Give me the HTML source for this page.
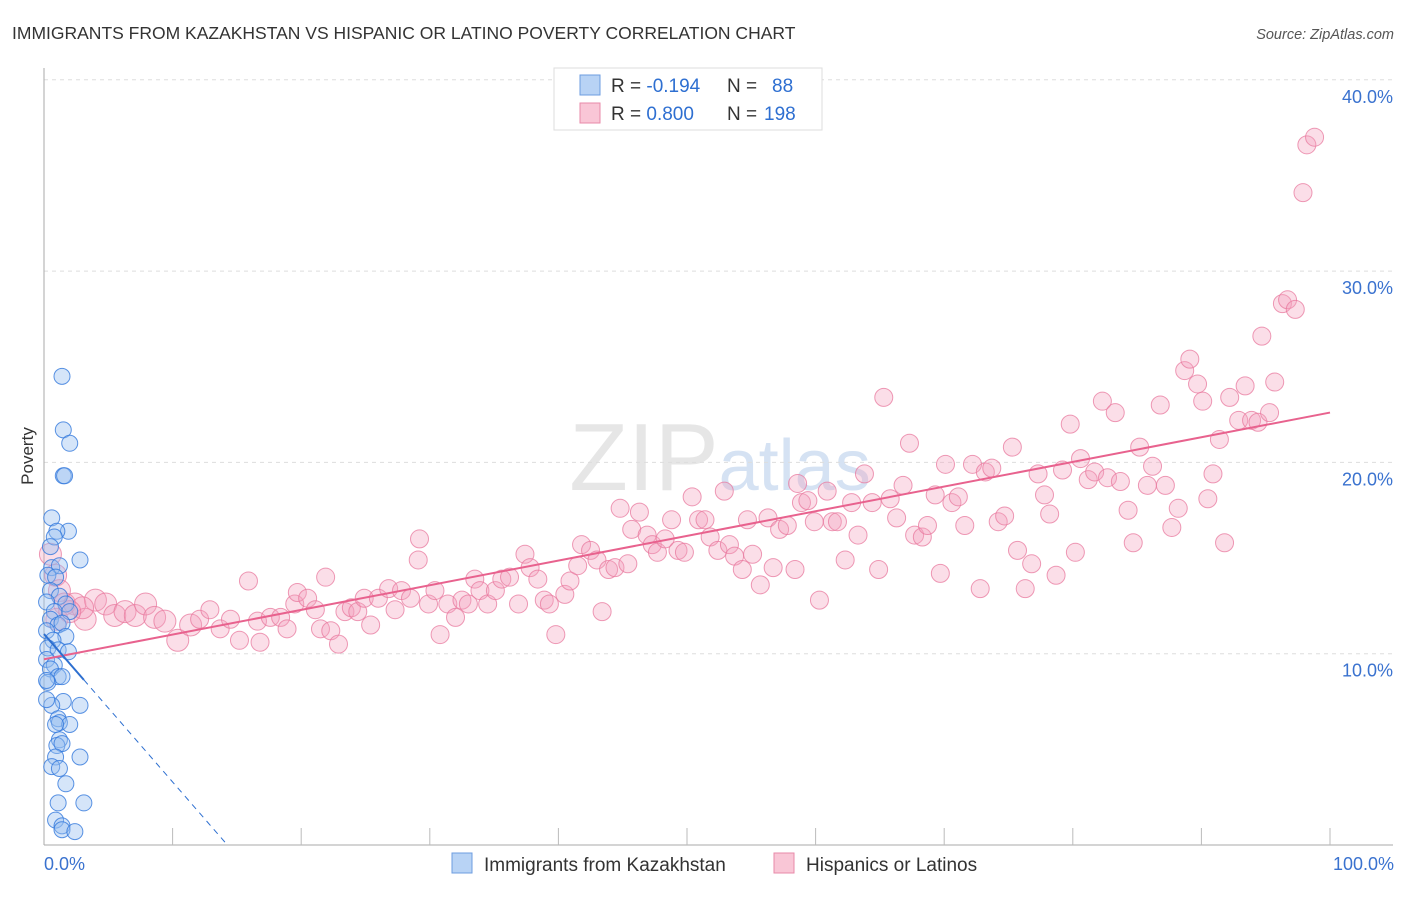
<!DOCTYPE html>
<html><head><meta charset="utf-8"><style>
body{margin:0;background:#fff;font-family:"Liberation Sans",sans-serif}
svg text{font-family:"Liberation Sans",sans-serif}
</style></head><body>
<svg id="chart" width="1406" height="892" viewBox="0 0 1406 892" xmlns="http://www.w3.org/2000/svg">
<text x="12" y="39" font-size="17.5" fill="#333">IMMIGRANTS FROM KAZAKHSTAN VS HISPANIC OR LATINO POVERTY CORRELATION CHART</text>
<text x="1394" y="39" font-size="14.5" fill="#555" text-anchor="end" font-style="italic">Source: ZipAtlas.com</text>
<text x="720" y="490" font-size="96" fill="#e6e6e6" text-anchor="middle" font-family="Liberation Serif">ZIP<tspan fill="#d5e2f3" font-family="Liberation Sans" font-size="72">atlas</tspan></text>
<g id="grid"></g>
<g id="axes"></g>
<g id="pink"></g>
<g id="blue"></g>
<g id="lines"></g>
<text transform="translate(33,456) rotate(-90)" font-size="17" fill="#333" text-anchor="middle">Poverty</text>
<g>
<rect x="554" y="68" width="268" height="62" fill="#fff" stroke="#ddd"/>
<rect x="580" y="75" width="20" height="20" fill="#b8d3f5" stroke="#6d9de0"/>
<rect x="580" y="103" width="20" height="20" fill="#f9c6d6" stroke="#e88aa8"/>
<text x="611" y="92" font-size="19" fill="#333">R = <tspan fill="#2e6fd1">-0.194</tspan><tspan x="727">N =</tspan><tspan x="772" fill="#2e6fd1">88</tspan></text>
<text x="611" y="120" font-size="19" fill="#333">R = <tspan fill="#2e6fd1">0.800</tspan><tspan x="727">N =</tspan><tspan x="764" fill="#2e6fd1">198</tspan></text>
</g>
<g>
<rect x="452" y="853" width="20" height="20" fill="#b8d3f5" stroke="#6d9de0"/>
<text x="484" y="871" font-size="19" fill="#333">Immigrants from Kazakhstan</text>
<rect x="774" y="853" width="20" height="20" fill="#f9c6d6" stroke="#e88aa8"/>
<text x="806" y="871" font-size="19" fill="#333">Hispanics or Latinos</text>
</g>
</svg>
<script>
const yTicks=[10,20,30,40];
const yTickLabels=["10.0%","20.0%","30.0%","40.0%"];
const xTickLabels=["0.0%","100.0%"];
const pinkX=[0.5,0.9,1.2,1.6,2.4,3.2,4.0,4.8,5.5,6.3,7.1,7.9,8.6,9.4,10.4,11.4,12.1,12.9,13.7,14.5,15.2,15.9,16.6,16.8,17.6,18.4,18.9,19.5,19.7,20.5,21.1,21.5,21.9,22.3,22.9,23.4,23.9,24.4,24.9,25.4,26.0,26.8,27.3,27.8,28.5,29.1,29.2,29.9,30.4,30.8,31.4,32.0,32.5,33.0,33.5,33.9,34.5,35.1,35.6,36.2,36.9,37.4,37.8,38.4,38.9,39.3,39.8,40.5,40.9,41.5,41.8,42.5,43.0,43.4,43.9,44.4,44.8,45.4,45.7,46.3,46.9,47.3,47.7,48.3,48.8,49.3,49.8,50.4,50.9,51.4,51.8,52.4,52.9,53.3,53.7,54.3,54.7,55.1,55.7,56.3,56.7,57.2,57.8,58.4,58.6,58.9,59.4,59.9,60.3,60.9,61.3,61.7,62.3,62.8,63.3,63.8,64.4,64.9,65.3,65.8,66.3,66.8,67.3,67.7,68.3,68.7,69.3,69.7,70.1,70.6,71.1,71.6,72.2,72.8,73.2,73.7,74.2,74.7,75.3,75.7,76.3,76.8,77.3,77.8,78.2,78.7,79.2,79.8,80.2,80.6,81.2,81.7,82.3,82.7,83.3,83.7,84.3,84.7,85.2,85.8,86.2,86.8,87.2,87.7,88.2,88.7,89.1,89.7,90.1,90.5,90.9,91.4,91.8,92.2,92.9,93.4,93.9,94.4,94.7,95.3,95.7,96.3,96.7,97.3,97.9,98.2,98.8,1.0,3.0,2.0];
const pinkY=[15.2,14.1,13.3,12.6,12.6,11.8,12.8,12.6,12.0,12.2,12.0,12.6,11.9,11.7,10.7,11.5,11.8,12.3,11.3,11.8,10.7,13.8,11.7,10.6,11.9,11.9,11.3,12.6,13.2,12.9,12.3,11.3,14.0,11.2,10.5,12.2,12.4,12.2,12.9,11.5,12.9,13.4,12.3,13.3,12.9,14.9,16.0,12.6,13.3,11.0,12.6,11.9,12.8,12.6,13.9,13.3,12.6,13.3,13.9,14.0,12.6,15.2,14.5,13.9,12.8,12.6,11.0,13.1,13.8,14.6,15.7,15.4,14.9,12.2,14.4,14.5,17.6,14.7,16.5,17.4,16.2,15.7,15.3,16.0,17.0,15.4,15.3,18.2,17.0,17.0,16.1,15.4,18.5,15.7,15.1,14.4,17.0,15.2,13.6,17.1,14.5,16.5,16.7,14.4,18.9,17.9,18.0,16.9,12.8,18.5,16.9,16.9,14.9,17.9,16.2,19.4,17.9,14.4,23.4,18.1,17.1,18.8,21.0,16.2,16.1,16.7,18.3,14.2,19.9,17.9,18.2,16.7,19.9,13.4,19.5,19.7,16.9,17.2,20.8,15.4,13.4,14.7,19.4,18.3,17.3,14.1,19.6,22.0,15.3,20.2,19.1,19.5,23.2,19.2,22.6,19.0,17.5,15.8,20.8,18.8,19.8,23.0,18.8,16.6,17.6,24.8,25.4,24.1,23.2,18.1,19.4,21.2,15.8,23.4,22.2,24.0,22.2,22.1,26.6,22.6,24.2,28.3,28.5,28.0,34.1,36.6,37.0,11.8,12.4,12.2];
const blueX=[1.4,1.5,2.0,1.5,1.6,0.6,1.9,1.0,0.8,0.5,2.8,0.6,1.2,0.3,0.9,0.5,1.2,0.2,1.7,0.8,2.0,0.5,1.1,1.4,0.2,1.7,0.7,0.3,1.1,1.9,0.2,0.8,0.5,1.1,1.4,0.3,1.5,2.8,0.6,1.1,1.2,2.0,0.9,1.2,1.0,1.4,0.9,2.8,0.6,1.2,1.7,1.1,3.1,0.9,1.4,1.4,2.4,0.2,0.2];
const blueY=[24.5,21.7,21.0,19.3,19.3,17.1,16.4,16.4,16.1,15.6,14.9,14.5,14.6,14.1,14.0,13.3,13.0,12.7,12.6,12.2,12.2,11.8,11.5,11.6,11.2,10.9,10.7,10.3,10.2,10.1,9.7,9.4,9.2,8.8,8.8,8.5,7.5,7.3,7.3,6.6,6.4,6.3,6.3,5.5,5.2,5.3,4.6,4.6,4.1,4.0,3.2,2.2,2.2,1.3,1.0,0.8,0.7,7.6,8.6];
const NS="http://www.w3.org/2000/svg";
const X0=44,X1=1330,Y0=845,YPER=19.13;
function sx(v){return X0+(X1-X0)*v/100;}
function sy(v){return Y0-v*YPER;}
function mk(tag,parent,attrs){const e=document.createElementNS(NS,tag);for(const k in attrs)e.setAttribute(k,attrs[k]);parent.appendChild(e);return e;}
const grid=document.getElementById('grid'),axes=document.getElementById('axes');
yTicks.forEach((t,i)=>{
 const l=mk('line',grid,{x1:44,x2:1393,y1:sy(t),y2:sy(t),stroke:'#ddd','stroke-dasharray':'4,4'});
 
 
 const tx=mk('text',axes,{x:1393,y:sy(t)+23,'font-size':18,fill:'#3a72cf','text-anchor':'end'});
 tx.textContent=yTickLabels[i];
 
 
});
mk('line',axes,{x1:44,x2:44,y1:68,y2:845,stroke:'#aaa'});
mk('line',axes,{x1:44,x2:1393,y1:845,y2:845,stroke:'#aaa'});
for(let i=1;i<=10;i++){const t=mk('line',axes,{x1:sx(i*10),x2:sx(i*10),y1:828,y2:845,stroke:'#bbb'});
 
 }
const xl0=mk('text',axes,{x:44,y:870,'font-size':18,fill:'#3a72cf'});xl0.textContent=xTickLabels[0];


const xl1=mk('text',axes,{x:1394,y:870,'font-size':18,fill:'#3a72cf','text-anchor':'end'});xl1.textContent=xTickLabels[1];


const pg=document.getElementById('pink'),bg=document.getElementById('blue');
pinkX.forEach((x,i)=>{const c=mk('circle',pg,{cx:sx(x),cy:sy(pinkY[i]),r:(x<12?11:9),fill:'rgba(244,160,188,0.35)',stroke:'rgba(232,120,158,0.75)','stroke-width':1});
 
 });
blueX.forEach((x,i)=>{const c=mk('circle',bg,{cx:sx(x),cy:sy(blueY[i]),r:8,fill:'rgba(150,190,240,0.4)',stroke:'rgba(50,120,220,0.8)','stroke-width':1});
 
 });
function reg(xs,ys){const n=xs.length;let mx=0,my=0;xs.forEach((x,i)=>{mx+=x;my+=ys[i];});mx/=n;my/=n;let sxy=0,sxx=0;xs.forEach((x,i)=>{sxy+=(x-mx)*(ys[i]-my);sxx+=(x-mx)*(x-mx);});const b=sxy/sxx;return [my-b*mx,b];}
const lg=document.getElementById('lines');
const [pa,pb]=reg(pinkX,pinkY);
const pl=mk('line',lg,{x1:sx(0),y1:sy(pa),x2:sx(100),y2:sy(pa+pb*100),stroke:'#e8628e','stroke-width':2});


const [ba,bb]=reg(blueX,blueY);
const xmax=Math.max(...blueX);
const bl=mk('line',lg,{x1:sx(0),y1:sy(ba),x2:sx(xmax),y2:sy(ba+bb*xmax),stroke:'#2d6fd0','stroke-width':2});


const xz=bb<0?-ba/bb:xmax;
const bd=mk('line',lg,{x1:sx(xmax),y1:sy(ba+bb*xmax),x2:sx(xz),y2:sy(0),stroke:'#2d6fd0','stroke-width':1,'stroke-dasharray':'6,5'});


</script>
</body></html>
